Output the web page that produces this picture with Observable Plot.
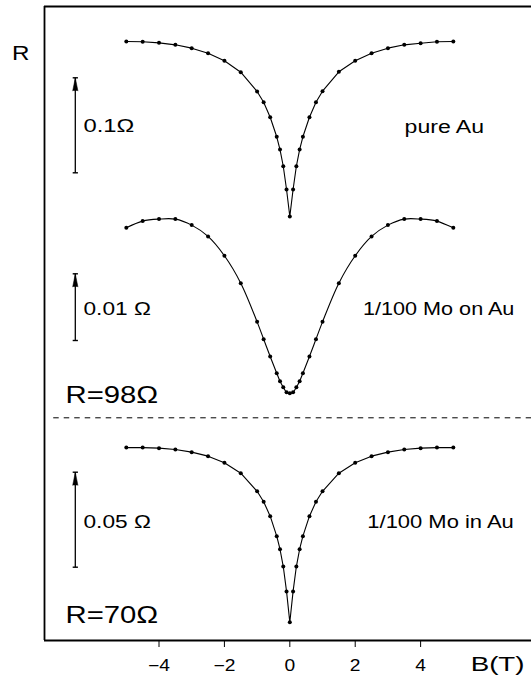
<!DOCTYPE html>
<html>
<head>
<meta charset="utf-8">
<script src="https://cdn.jsdelivr.net/npm/d3@7"></script>
<script src="https://cdn.jsdelivr.net/npm/@observablehq/plot@0.6"></script>
<style>
  html, body { margin: 0; padding: 0; background: white; }
  svg { display: block; }
</style>
</head>
<body>
<script>
// Magnetic field values (T)
const B = [-5,-4.5,-4,-3.5,-3,-2.5,-2,-1.5,-1,-0.8,-0.6,-0.4,-0.3,-0.2,-0.1,0,
           0.1,0.2,0.3,0.4,0.6,0.8,1,1.5,2,2.5,3,3.5,4,4.5,5];

// Resistance change relative to the minimum (Ohm)
const pureAu = [0.1842,0.1839,0.1828,0.1807,0.1772,0.1719,0.1639,0.1519,0.1316,0.1203,0.1045,0.0839,0.0705,0.0529,0.0284,0,
                0.0284,0.0529,0.0705,0.0839,0.1045,0.1203,0.1319,0.1523,0.1639,0.1719,0.1772,0.1807,0.1824,0.1839,0.1842];
const moOnAu = [0.0248,0.0258,0.0261,0.0261,0.0252,0.0235,0.0206,0.0165,0.0107,0.0081,0.0055,0.0030,0.0018,0.0009,0.00015,0,
                0.00015,0.0009,0.0018,0.0030,0.0055,0.0081,0.0107,0.0165,0.0206,0.0235,0.0252,0.0261,0.0261,0.0258,0.0248];
const moInAu = [0.0919,0.0919,0.0916,0.0909,0.0895,0.0874,0.0839,0.0784,0.0689,0.0634,0.0558,0.0453,0.0384,0.0293,0.0162,0,
                0.0162,0.0293,0.0384,0.0453,0.0558,0.0634,0.0689,0.0784,0.0839,0.0874,0.0895,0.0909,0.0916,0.0919,0.0919];

const sampleLabels = ["pure Au", "1/100 Mo on Au", "1/100 Mo in Au"];
const barValues = [0.1, 0.01, 0.05];            // Ohm
const barLabels = ["0.1Ω", "0.01 Ω", "0.05 Ω"];
const baseLabels = ["", "R=98Ω", "R=70Ω"];
const xTicks = [-4, -2, 0, 2, 4];

// Layout (display units of the stacked vertical axis)
const series = [pureAu, moOnAu, moInAu];
const curveBase = [424, 247.3, 18.3];   // where each curve's minimum sits
const curveGain = [950, 6670, 1900];    // display units per Ohm
const barBottom = [467.7, 300, 73.3];
const labelY = [513.5, 331, 118.3];
const sampleX = [3.51, 2.24, 2.37];
const baseLabelY = [0, 244.7, 25];
const curveTypes = ["linear", "catmull-rom", "linear"];
const xDom = [-7.502, 7.391];
const yDom = [0, 634];
const barX = -6.56;
const dashY = 222.7;

// horizontal stretch of the original lettering
const stretch = {"pure Au": 1.28, "1/100 Mo on Au": 1.2, "1/100 Mo in Au": 1.22,
                 "0.1Ω": 1.32, "0.01 Ω": 1.26, "0.05 Ω": 1.26, "R=98Ω": 1.22, "R=70Ω": 1.22,
                 "R": 1.15, "B(T)": 1.32};

const rows = [];
series.forEach((vals, i) => vals.forEach((v, j) => rows.push({
  panel: i, B: B[j], dR: v, y: curveBase[i] + v * curveGain[i]
})));

const bars = barValues.map((v, i) => ({
  i, x: barX, y1: barBottom[i], y2: barBottom[i] + v * curveGain[i], label: barLabels[i]
}));
const caps = bars.flatMap(b => [{x: b.x, y: b.y1}, {x: b.x, y: b.y2}]);

const labels = sampleLabels.map((s, i) => ({text: s, x: sampleX[i], y: labelY[i]}));
const barTexts = bars.map((b, i) => ({text: b.label, x: -6.31, y: labelY[i] + (i === 0 ? 0.5 : 0)}));
const baseTexts = baseLabels.map((s, i) => ({text: s, x: -6.86, y: baseLabelY[i]})).filter(d => d.text);

const marks = [
  Plot.ruleY([yDom[0], yDom[1]], {strokeWidth: 1.8}),
  Plot.ruleX([xDom[0]], {y1: yDom[0], y2: yDom[1], strokeWidth: 1.8}),
  Plot.ruleY([dashY], {x1: -7.22, x2: xDom[1], strokeDasharray: "5.5,5", strokeWidth: 1}),
];
[0, 1, 2].forEach(i => {
  marks.push(Plot.line(rows.filter(d => d.panel === i), {x: "B", y: "y", curve: curveTypes[i], strokeWidth: 1.1, stroke: "black"}));
});
marks.push(
  Plot.dot(rows, {x: "B", y: "y", r: 2, fill: "black", stroke: "none"}),
  Plot.link(bars, {x1: "x", x2: "x", y1: "y1", y2: "y2", strokeWidth: 1.3, stroke: "black"}),
  Plot.link(caps, {x1: d => d.x - 0.08, x2: d => d.x + 0.08, y1: "y", y2: "y", strokeWidth: 1.4, stroke: "black"}),
  Plot.vector(bars, {x: "x", y: "y2", length: 13, r: 2.6, shape: "spike", anchor: "end", fill: "black", stroke: "black", strokeWidth: 0.5}),
  Plot.text(labels, {x: "x", y: "y", text: "text", textAnchor: "start", fontSize: 18}),
  Plot.text(barTexts, {x: "x", y: "y", text: "text", textAnchor: "start", fontSize: 18}),
  Plot.text(baseTexts, {x: "x", y: "y", text: "text", textAnchor: "start", fontSize: 24}),
  Plot.text(["R"], {x: -8.23, y: 587.5, text: d => d, textAnchor: "middle", fontSize: 21}),
  Plot.text(["B(T)"], {x: 5.53, y: -24, text: d => d, textAnchor: "start", fontSize: 21}),
  Plot.axisX({ticks: xTicks, tickSize: 7, tickPadding: 12, fontSize: 16, label: null})
);

const svg = Plot.plot({
  width: 531,
  height: 679,
  marginLeft: 44,
  marginRight: 0,
  marginTop: 6,
  marginBottom: 39,
  x: {domain: xDom},
  y: {domain: yDom, axis: null},
  style: {fontFamily: "'Liberation Sans', Arial, sans-serif", fontSize: "16px", background: "white", color: "black", overflow: "visible"},
  marks
});
document.body.append(svg);

// Original lettering is horizontally stretched; widen glyphs to match.
svg.querySelectorAll("text").forEach(t => {
  const w = t.getComputedTextLength();
  const f = stretch[t.textContent] ?? 1.2;
  if (w > 0) {
    t.setAttribute("textLength", (w * f).toFixed(2));
    t.setAttribute("lengthAdjust", "spacingAndGlyphs");
  }
});
</script>
</body>
</html>
